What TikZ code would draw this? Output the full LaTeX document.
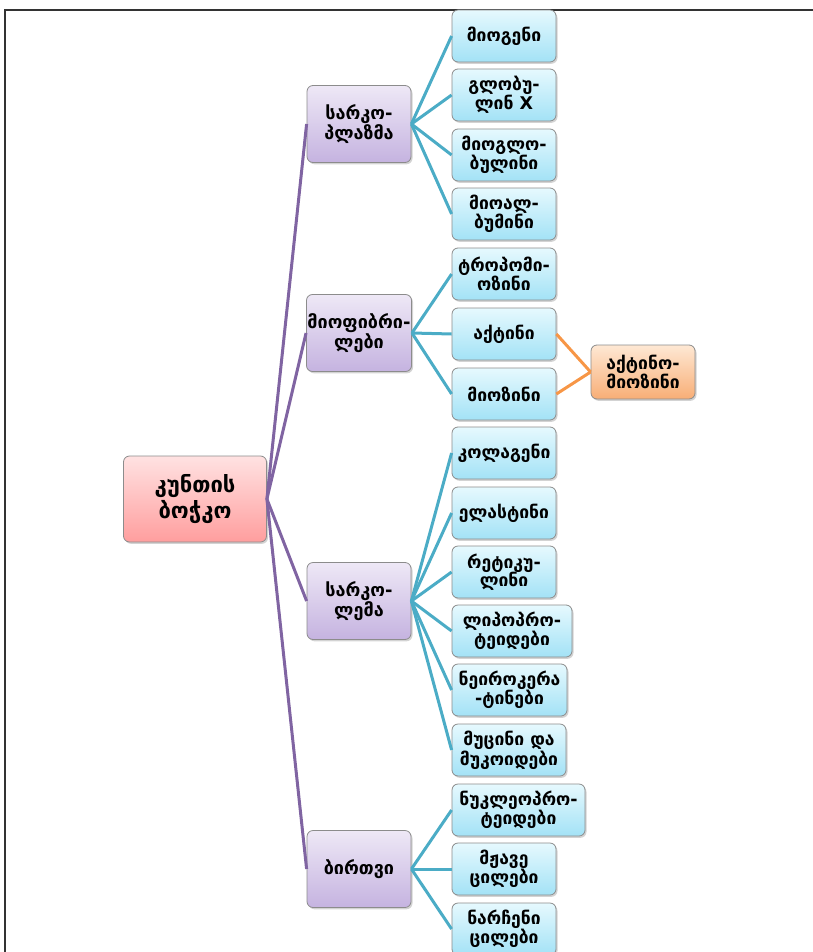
\documentclass[tikz,border=0pt]{standalone}
\usepackage{fontspec}
\setmainfont{DejaVu Sans}
\usetikzlibrary{shadows}
\definecolor{rtop}{HTML}{FFE2E2}
\definecolor{rbot}{HTML}{FF9E9E}
\definecolor{ltop}{HTML}{EEE8F6}
\definecolor{lbot}{HTML}{C5B3E0}
\definecolor{ctop}{HTML}{E6F9FE}
\definecolor{cbot}{HTML}{A3E2F6}
\definecolor{otop}{HTML}{FEE8D4}
\definecolor{obot}{HTML}{F8AE76}
\definecolor{lpurple}{HTML}{8064A2}
\definecolor{lteal}{HTML}{4BACC6}
\definecolor{lorange}{HTML}{F79646}
\begin{document}
\begin{tikzpicture}[x=1pt,y=-1pt,
  box/.style={rounded corners=6pt, draw=black!45, line width=0.8pt, align=center,
    font=\bfseries\fontsize{17.5}{18.5}\selectfont, inner sep=1pt,
    drop shadow={shadow xshift=1.5pt,shadow yshift=-1.8pt,opacity=0.35}},
  rootbox/.style={box, top color=rtop, bottom color=rbot, minimum width=143pt, minimum height=86pt,
    font=\bfseries\fontsize{22}{26}\selectfont},
  lonebox/.style={box, top color=ltop, bottom color=lbot, minimum width=104pt, minimum height=77pt,
    font=\bfseries\fontsize{18}{20}\selectfont},
  ltwobox/.style={box, top color=ctop, bottom color=cbot, minimum width=104pt, minimum height=52pt},
  actbox/.style={box, top color=otop, bottom color=obot, minimum width=104pt, minimum height=54pt},
  pline/.style={draw=lpurple, line width=3pt},
  tline/.style={draw=lteal, line width=3pt},
  oline/.style={draw=lorange, line width=3pt}]
\useasboundingbox (0,0) rectangle (812,952);
\draw[line width=1.6pt, black!80] (5,960) -- (5,10) -- (820,10);

\node[rootbox] (root) at (195,499) {კუნთის\\ბოჭკო};

\node[lonebox] (sp) at (359,124) {სარკო-\\პლაზმა};
\node[lonebox] (mf) at (359,333) {მიოფიბრი-\\ლები};
\node[lonebox] (sl) at (359,601) {სარკო-\\ლემა};
\node[lonebox] (nu) at (359,869) {ბირთვი};

\node[ltwobox] (a1) at (504,36) {მიოგენი};
\node[ltwobox] (a2) at (504,95) {გლობუ-\\ლინ X};
\node[ltwobox] (a3) at (504,155) {მიოგლო-\\ბულინი};
\node[ltwobox] (a4) at (504,214) {მიოალ-\\ბუმინი};

\node[ltwobox] (b1) at (504,274) {ტროპომი-\\ოზინი};
\node[ltwobox] (b2) at (504,334) {აქტინი};
\node[ltwobox] (b3) at (504,394) {მიოზინი};
\node[actbox] (am) at (643,372) {აქტინო-\\მიოზინი};

\node[ltwobox] (c1) at (504,453) {კოლაგენი};
\node[ltwobox] (c2) at (504,513) {ელასტინი};
\node[ltwobox] (c3) at (504,572) {რეტიკუ-\\ლინი};
\node[ltwobox, minimum width=120pt] (c4) at (512,631) {ლიპოპრო-\\ტეიდები};
\node[ltwobox, minimum width=115pt] (c5) at (509.5,690) {ნეიროკერა\\-ტინები};
\node[ltwobox, minimum width=114pt] (c6) at (509,750) {მუცინი და\\მუკოიდები};

\node[ltwobox, minimum width=133pt] (d1) at (518.5,810) {ნუკლეოპრო-\\ტეიდები};
\node[ltwobox] (d2) at (504,869) {მჟავე\\ცილები};
\node[ltwobox] (d3) at (504,929) {ნარჩენი\\ცილები};

\foreach \n in {sp,mf,sl,nu} \draw[pline] (root.east) -- (\n.west);
\foreach \n in {a1,a2,a3,a4} \draw[tline] (sp.east) -- (\n.west);
\foreach \n in {b1,b2,b3} \draw[tline] (mf.east) -- (\n.west);
\foreach \n in {c1,c2,c3,c4,c5,c6} \draw[tline] (sl.east) -- (\n.west);
\foreach \n in {d1,d2,d3} \draw[tline] (nu.east) -- (\n.west);
\draw[oline] (b2.east) -- (am.west);
\draw[oline] (b3.east) -- (am.west);
\end{tikzpicture}
\end{document}
